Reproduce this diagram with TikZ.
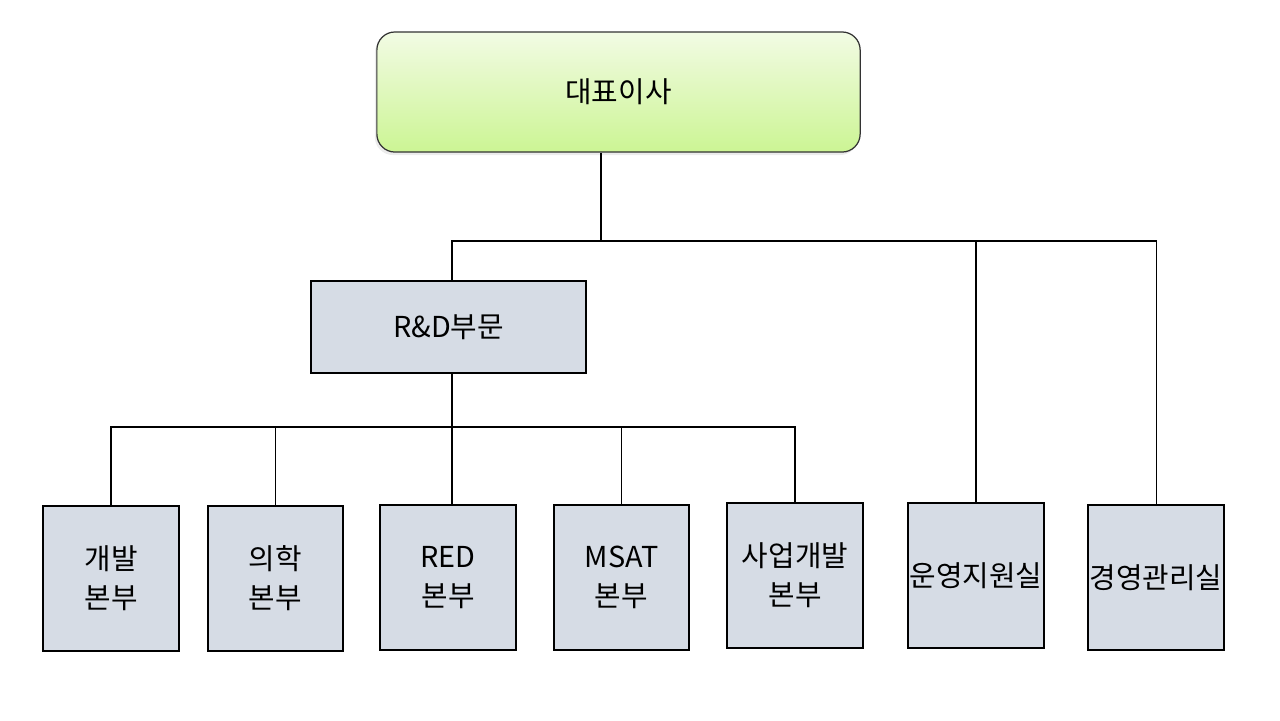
\documentclass[tikz,border=0pt]{standalone}
\usepackage{fontspec}
\setmainfont{Noto Sans CJK KR}
\usetikzlibrary{shadows}
\definecolor{unitfill}{RGB}{214,220,229}
\definecolor{ceotop}{RGB}{242,251,228}
\definecolor{ceobottom}{RGB}{204,245,148}
\tikzset{
  unit/.style={line width=0.35pt, shape=rectangle, draw=black, fill=unitfill, align=center,
    font=\fontsize{8.2}{11.1}\selectfont, inner sep=0pt},
  link/.style={line width=0.3pt, draw=black}
}
\begin{document}
\begin{tikzpicture}[x=0.01cm, y=-0.01cm]
  \useasboundingbox (0,0) rectangle (1280,720);
  % head
  \node[line width=0.35pt, shape=rectangle, rounded corners=0.18cm, draw=black!80, top color=ceotop, bottom color=ceobottom,
    drop shadow={opacity=0.15, shadow xshift=-0.02cm, shadow yshift=-0.03cm},
    minimum width=4.83cm, minimum height=1.2cm, font=\fontsize{8.2}{11.1}\selectfont](ceo) at (618.5,92) {대표이사};
  \node[unit, minimum width=2.75cm, minimum height=0.92cm](rnd) at (448.5,327) {R\&D부문};
  % units
  \node[unit, minimum width=1.36cm, minimum height=1.45cm](dev)    at (111,578.5)   {개발\\본부};
  \node[unit, minimum width=1.35cm, minimum height=1.45cm](med)    at (275.5,578.5) {의학\\본부};
  \node[unit, minimum width=1.36cm, minimum height=1.45cm](red)    at (448,577.5)   {RED\\본부};
  \node[unit, minimum width=1.35cm, minimum height=1.45cm](msat)   at (621.5,577.5) {MSAT\\본부};
  \node[unit, minimum width=1.36cm, minimum height=1.45cm](bizdev) at (795,575.5)   {사업개발\\본부};
  \node[unit, minimum width=1.36cm, minimum height=1.45cm](ops)    at (976,575.5)   {운영지원실};
  \node[unit, minimum width=1.36cm, minimum height=1.45cm](mgmt)   at (1156,577.5)  {경영관리실};
  % links
  \coordinate (bus1) at (601,241);
  \coordinate (bus2) at (452,427);
  \draw[link] (ceo.south -| bus1) -- (bus1);
  \draw[link] (rnd.north -| bus2) |- (mgmt.north |- bus1) -- (mgmt.north);
  \draw[link] (ops.north) -- (ops.north |- bus1);
  \draw[link] (rnd.south -| bus2) -- (bus2);
  \draw[link] (dev.north) |- (bizdev.north |- bus2) -- (bizdev.north);
  \draw[link] (med.north) -- (med.north |- bus2);
  \draw[link] (red.north -| bus2) -- (bus2);
  \draw[link] (msat.north) -- (msat.north |- bus2);
\end{tikzpicture}
\end{document}
